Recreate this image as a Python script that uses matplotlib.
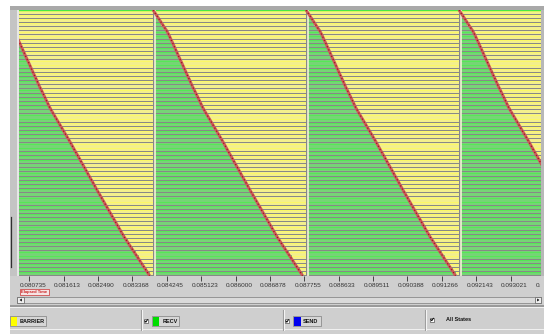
import matplotlib
matplotlib.use("Agg")
import matplotlib.pyplot as plt
from matplotlib.patches import Rectangle, Polygon
from matplotlib.transforms import ScaledTranslation, blended_transform_factory
import numpy as np

# ---- timeline data -------------------------------------------------------
# visible time window (seconds)
view_start = 0.080472
view_end = 0.093797

# start of each receive phase (end of the previous barrier), seconds
cycle_starts = [0.079988, 0.083893, 0.087798, 0.091703, 0.095608]

# delay from cycle start until the message reaches each process (microseconds)
recv_delay_us = [
    0, 72, 143, 212, 283, 355, 411, 460, 511, 559, 608, 656, 707, 756, 805, 853,
    904, 953, 1001, 1055, 1108, 1160, 1211, 1262, 1323, 1387, 1451, 1515, 1578, 1642, 1706, 1770,
    1831, 1890, 1951, 2013, 2071, 2133, 2194, 2252, 2314, 2375, 2434, 2495, 2559, 2620, 2682, 2745,
    2807, 2868, 2932, 2993, 3055, 3118, 3182, 3254, 3323, 3395, 3466, 3537, 3606, 3678, 3749, 3818,
]

tick_values = [0.080735, 0.081613, 0.082490, 0.083368, 0.084245, 0.085123, 0.086000,
               0.086878, 0.087755, 0.088633, 0.089511, 0.090388, 0.091266, 0.092143, 0.093021]
tick_labels = ["%.6f" % v for v in tick_values]
next_tick_value = 0.093899
next_tick_shown = "0."

legend_states = ["BARRIER", "RECV", "SEND"]
legend_colors = ["#ffff00", "#00dd00", "#0000ee"]

# drawing colours for the states in the timeline
barrier_fill, barrier_hi = "#f3ef8c", "#fbf866"
recv_fill, recv_hi = "#76d476", "#55e855"
message_color, message_dark = "#cc5c5c", "#9a1c1c"

# ---- figure --------------------------------------------------------------
W, H = 544, 334
fig = plt.figure(figsize=(W / 100, H / 100), dpi=100)
fig.patch.set_facecolor("white")


def frac(x0, y0, x1, y1):
    return [x0 / W, 1 - y1 / H, (x1 - x0) / W, (y1 - y0) / H]


# window chrome drawn in pixel units
bg = fig.add_axes([0, 0, 1, 1], zorder=0)
bg.set_xlim(0, W)
bg.set_ylim(H, 0)
bg.axis("off")


def box(x0, y0, x1, y1, fc, ec="none", lw=0.0, z=1):
    bg.add_patch(Rectangle((x0, y0), x1 - x0, y1 - y0, facecolor=fc, edgecolor=ec,
                           linewidth=lw, zorder=z))


box(10, 6, W, H, "#cfcfcf")
box(10, 6, W, 9.5, "#a9a9a9", z=2)
box(10, 9.5, 17, 276, "#c4c4c4", z=2)
box(17, 9.5, 19, 276, "#e6e6e6", z=2)
box(541, 9.5, W, 276, "#b8b8b8", z=2)
bg.plot([10.5, 10.5], [217, 267], color="#303030", lw=0.9, zorder=3)

# horizontal scrollbar
box(17, 297, 541, 303, "#dadada", ec="#8a8a8a", lw=0.6, z=2)
box(17, 297, 24, 303, "#eeeeee", ec="#707070", lw=0.6, z=3)
box(535, 297, 541, 303, "#eeeeee", ec="#707070", lw=0.6, z=3)
bg.add_patch(Polygon([[21.8, 298.5], [21.8, 301.5], [19.6, 300]], closed=True,
                     facecolor="black", edgecolor="none", zorder=4))
bg.add_patch(Polygon([[537.2, 298.5], [537.2, 301.5], [539.4, 300]], closed=True,
                     facecolor="black", edgecolor="none", zorder=4))

# separator and legend panel
box(10, 305, W, 306.5, "#9a9a9a", z=2)
box(10, 306.5, W, 308, "#f2f2f2", z=2)
box(10, 329.3, W, 330.3, "#f0f0f0", z=2)
for xd in (141, 283, 425):
    bg.plot([xd, xd], [310, 330], color="#9a9a9a", lw=0.8, zorder=3)
    bg.plot([xd + 1, xd + 1], [310, 330], color="#f4f4f4", lw=0.8, zorder=3)

legend_font = dict(family="Liberation Sans", fontsize=4.0, fontweight="bold", color="#111111")


def checkbox(x0, y0, size=4.2):
    box(x0, y0, x0 + size, y0 + size, "white", ec="#555555", lw=0.5, z=4)
    bg.plot([x0 + 0.9, x0 + 1.8, x0 + 3.4], [y0 + 2.0, y0 + 3.2, y0 + 0.8],
            color="black", lw=0.7, zorder=5)


button_specs = [  # (checkbox x or None, button x0, x1, swatch x1, text x)
    (None, 10, 46, 17, 20),
    (144, 152, 179, 159, 163),
    (285, 293, 321, 301, 303),
]
for name, col, (cb, bx0, bx1, sx1, tx) in zip(legend_states, legend_colors, button_specs):
    if cb is not None:
        checkbox(cb, 319)
    box(bx0, 316, bx1, 326, "#d6d6d6", ec="#8c8c8c", lw=0.6, z=3)
    box(bx0 + 0.5, 316.5, sx1, 325.5, col, z=4)
    bg.text(tx, 321.3, name, ha="left", va="center", zorder=5, **legend_font)
checkbox(430, 317.5)
bg.text(446, 319.8, "All States", ha="left", va="center", zorder=5, **legend_font)

# ---- timeline panel -------------------------------------------------------
ax = fig.add_axes(frac(19, 10, 541, 275.7), zorder=2)
ax.set_facecolor("#888888")
n_rows = len(recv_delay_us)
ax.set_xlim(view_start, view_end)
ax.set_ylim(n_rows, 0)
for s in ax.spines.values():
    s.set_visible(False)
ax.set_yticks([])

delays = np.array(recv_delay_us) * 1e-6
gap = 0.00005
for r, d in enumerate(delays):
    green, yellow = [], []
    for k in range(len(cycle_starts) - 1):
        t0, t1 = cycle_starts[k], cycle_starts[k + 1]
        arrive = t0 + d
        if arrive > t0 + gap:
            green.append((t0 + gap, arrive - t0 - gap))
        yellow.append((max(arrive, t0 + gap), t1 - max(arrive, t0 + gap)))
    ax.broken_barh(green, (r + 0.12, 0.78), facecolors=recv_fill, zorder=2)
    ax.broken_barh(yellow, (r + 0.12, 0.78), facecolors=barrier_fill, zorder=2)
    ax.broken_barh(green, (r + 0.22, 0.2), facecolors=recv_hi, zorder=3)
    ax.broken_barh(yellow, (r + 0.22, 0.2), facecolors=barrier_hi, zorder=3)

ax.axhline(0.05, color="#48e848", lw=1.0, zorder=4)

# pale edges where every barrier ends
for t0 in cycle_starts[1:-1]:
    ax.axvline(t0 + gap * 0.8, color="#fbfbdc", lw=1.3, alpha=0.85, zorder=5)

# point-to-point messages passed down the process chain
rows_y = np.arange(n_rows) * n_rows / (n_rows - 1)
for t0 in cycle_starts[:-1]:
    xs = t0 + delays
    ax.plot(xs, rows_y, color=message_color, lw=2.1, solid_capstyle="butt", zorder=6)
    ax.plot(xs, rows_y, color=message_dark, lw=0.9, dashes=(1.0, 1.8), zorder=7)

# time axis
ax.set_xticks(tick_values)
ax.set_xticklabels(tick_labels)
ax.tick_params(axis="x", direction="out", length=3.8, width=0.7, color="#444444",
               pad=1.6, labelsize=4.6, labelcolor="#333333")
shift = ScaledTranslation(3.5 / 100, 0, fig.dpi_scale_trans)
for lab in ax.get_xticklabels():
    lab.set_fontfamily("Liberation Sans")
    lab.set_transform(lab.get_transform() + shift)

# first characters of the next tick label, where the window cuts it off
tr = blended_transform_factory(ax.transData, ax.transAxes) + ScaledTranslation(
    -9.0 / 100, -(3.8 + 1.6) / 72, fig.dpi_scale_trans)
ax.text(next_tick_value, 0.0, next_tick_shown, transform=tr, ha="left", va="top",
        fontsize=4.6, color="#333333", family="Liberation Sans", clip_on=False)

# axis caption
box(20, 289, 49, 294.6, "#f6e4e4", ec="#cc3333", lw=0.5, z=3)
bg.text(34.5, 291.9, "Elapsed Time", ha="center", va="center", fontsize=3.0,
        color="#cc2222", family="Liberation Sans", fontweight="bold", zorder=4)

fig.savefig("out.png", dpi=100)
